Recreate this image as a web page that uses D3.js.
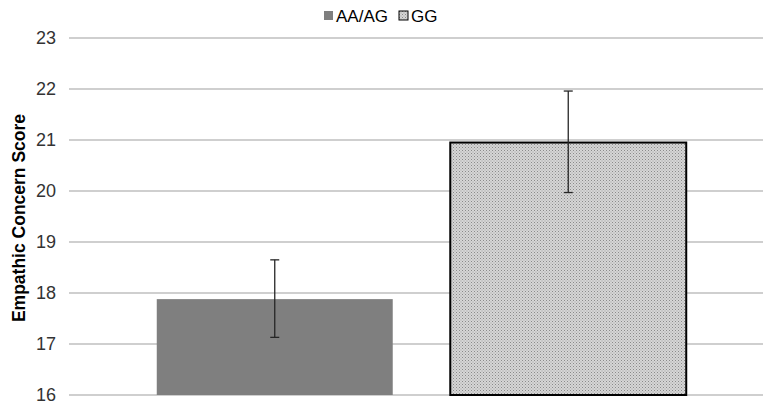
<!DOCTYPE html>
<html>
<head>
<meta charset="utf-8">
<script src="https://cdn.jsdelivr.net/npm/d3@7"></script>
<style>
  body { margin: 0; background: #fff; }
  text { font-family: "Liberation Sans", Arial, sans-serif; }
</style>
</head>
<body>
<div id="chart"></div>
<script>
// chart data
const groups = ["AA/AG", "GG"];
const means = [17.88, 20.95];
const errLow = [17.13, 19.97];
const errHigh = [18.65, 21.96];
const yTicks = [16, 17, 18, 19, 20, 21, 22, 23];

const width = 763, height = 409;

const svg = d3.select("#chart").append("svg")
    .attr("width", width)
    .attr("height", height);

// dotted fill for GG bar
const defs = svg.append("defs");
const pat = defs.append("pattern")
    .attr("id", "dots")
    .attr("patternUnits", "userSpaceOnUse")
    .attr("width", 3)
    .attr("height", 3);
pat.append("rect").attr("width", 3).attr("height", 3).attr("fill", "#d6d6d6");
pat.append("rect").attr("width", 1).attr("height", 1).attr("fill", "#8a8a8a");
pat.append("rect").attr("x", 1.5).attr("y", 1.5).attr("width", 1).attr("height", 1).attr("fill", "#a0a0a0");

//Scales
let yScale = d3.scaleLinear()
    .domain([16, 23])
    .range([395, 38]);

let xScale = d3.scaleBand()
    .domain(groups)
    .range([128, 715])
    .paddingInner(0.196)
    .paddingOuter(0.098);

// gridlines
svg.append("g")
    .selectAll("line")
    .data(yTicks)
    .enter().append("line")
    .attr("x1", 69)
    .attr("x2", 763)
    .attr("y1", d => yScale(d))
    .attr("y2", d => yScale(d))
    .attr("stroke", "#bfbfbf")
    .attr("stroke-width", 1.3);

// y tick labels
let yAxis = d3.axisLeft(yScale)
    .tickValues(yTicks)
    .tickSize(0)
    .tickPadding(0)
    .tickFormat(d3.format("d"));

let yAxisG = svg.append("g")
    .attr("transform", "translate(56,0)")
    .call(yAxis);
yAxisG.select(".domain").remove();
yAxisG.selectAll("text")
    .attr("font-size", 18)
    .attr("fill", "#333")
    .style("font-family", "Liberation Sans, Arial, sans-serif");

// bars
svg.append("g")
    .selectAll("rect")
    .data(groups)
    .enter().append("rect")
    .attr("x", d => xScale(d))
    .attr("width", xScale.bandwidth())
    .attr("y", (d, i) => yScale(means[i]))
    .attr("height", (d, i) => yScale(16) - yScale(means[i]))
    .attr("fill", (d, i) => i === 0 ? "#7f7f7f" : "url(#dots)")
    .attr("stroke", (d, i) => i === 0 ? "none" : "#000")
    .attr("stroke-width", 2);

// error bars
let eb = svg.append("g")
    .selectAll("g")
    .data(groups)
    .enter().append("g");

eb.append("line")
    .attr("x1", d => xScale(d) + xScale.bandwidth() / 2)
    .attr("x2", d => xScale(d) + xScale.bandwidth() / 2)
    .attr("y1", (d, i) => yScale(errLow[i]))
    .attr("y2", (d, i) => yScale(errHigh[i]))
    .attr("stroke", "#262626")
    .attr("stroke-width", 1.3);

[errLow, errHigh].forEach(arr => {
    eb.append("line")
        .attr("x1", d => xScale(d) + xScale.bandwidth() / 2 - 4.5)
        .attr("x2", d => xScale(d) + xScale.bandwidth() / 2 + 4.5)
        .attr("y1", (d, i) => yScale(arr[i]))
        .attr("y2", (d, i) => yScale(arr[i]))
        .attr("stroke", "#262626")
        .attr("stroke-width", 1.3);
});

// y axis title
svg.append("text")
    .attr("transform", "translate(25,218) rotate(-90)")
    .attr("text-anchor", "middle")
    .attr("font-size", 17.5)
    .attr("font-weight", "bold")
    .attr("fill", "#000")
    .text("Empathic Concern Score");

// legend
const legendX = [324, 399];
let legend = svg.append("g")
    .selectAll("g")
    .data(groups)
    .enter().append("g")
    .attr("transform", (d, i) => "translate(" + legendX[i] + ",11)");

legend.append("rect")
    .attr("width", 9)
    .attr("height", 9)
    .attr("fill", (d, i) => i === 0 ? "#7f7f7f" : "url(#dots)")
    .attr("stroke", (d, i) => i === 0 ? "none" : "#000")
    .attr("stroke-width", 1);

legend.append("text")
    .attr("x", 12)
    .attr("y", 10.5)
    .attr("font-size", 17)
    .attr("fill", "#000")
    .text(d => d);
</script>
</body>
</html>
